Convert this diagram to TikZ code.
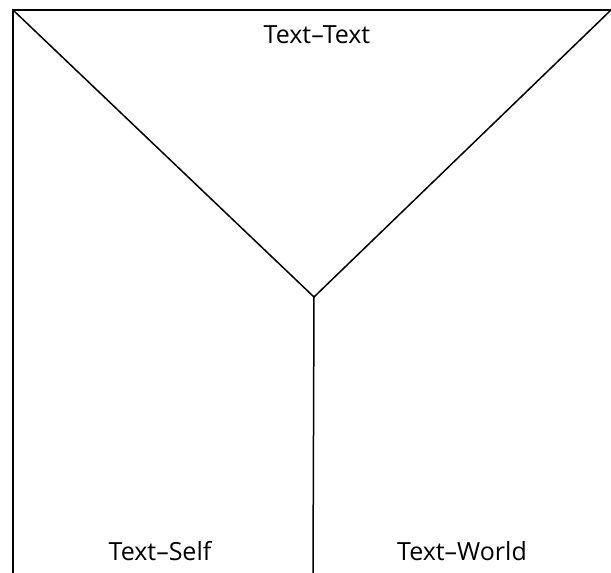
\documentclass[tikz,border=0pt]{standalone}
\usepackage{fontspec}
\setmainfont{Open Sans}
\begin{document}
\begin{tikzpicture}[x=1pt,y=1pt,
  edge/.style={line width=1.5pt,line cap=rect},
  lab/.style={font=\fontsize{25}{30}\selectfont,inner sep=0pt,anchor=base}]
\useasboundingbox (0,0) rectangle (611,573);
\coordinate (tl) at (13,563);
\coordinate (tr) at (611,563);
\coordinate (bl) at (13,0);
\coordinate (c) at (314,276);
\coordinate (b) at (313,0);
\draw[edge] (bl) -- (tl) -- (tr);
\draw[edge] (tl) -- (c) -- (tr);
\draw[edge] (c) -- (b);
\node[lab] (tt) at (317,529) {Text–Text};
\node[lab] (ts) at (160,12) {Text–Self};
\node[lab] (tw) at (462,12) {Text–World};
\end{tikzpicture}
\end{document}
